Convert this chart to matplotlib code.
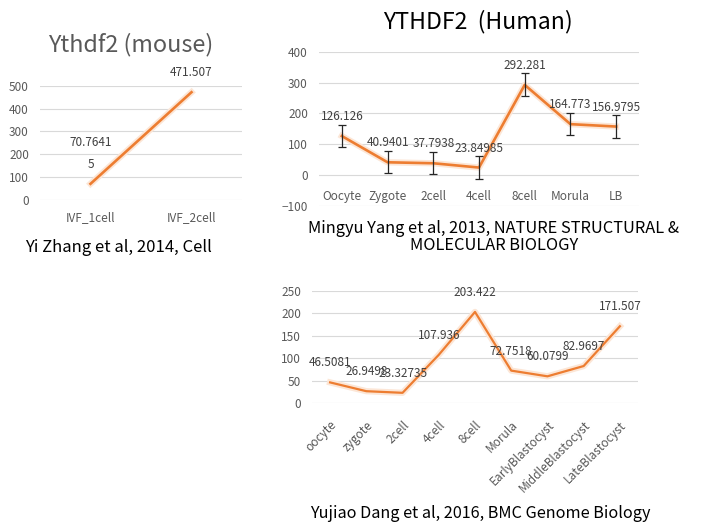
import matplotlib
matplotlib.use("Agg")
import matplotlib.pyplot as plt
import matplotlib.patheffects as pe

plt.rcParams['font.family'] = ['Noto Sans CJK KR', 'DejaVu Sans']

# --- data ---
mouse_cats = ["IVF_1cell", "IVF_2cell"]
mouse_vals = [70.76415, 471.507]
mouse_labels = ["70.7641\n5", "471.507"]

human_cats = ["Oocyte", "Zygote", "2cell", "4cell", "8cell", "Morula", "LB"]
human_vals = [126.126, 40.9401, 37.7938, 23.84985, 292.281, 164.773, 156.9795]
human_err = [36, 36, 36, 37, 37, 35, 37]
human_labels = ["126.126", "40.9401", "37.7938", "23.84985", "292.281", "164.773", "156.9795"]

dang_cats = ["oocyte", "zygote", "2cell", "4cell", "8cell", "Morula",
             "EarlyBlastocyst", "MiddleBlastocyst", "LateBlastocyst"]
dang_vals = [46.5081, 26.9498, 23.32735, 107.936, 203.422, 72.7518, 60.0799, 82.9697, 171.507]
dang_labels = ["46.5081", "26.9498", "23.32735", "107.936", "203.422", "72.7518",
               "60.0799", "82.9697", "171.507"]

W, H = 726, 532
ORANGE = '#ED7D31'
GRID = '#D9D9D9'
TXT = '#595959'

fig = plt.figure(figsize=(W / 100, H / 100), dpi=100)


def px_axes(x0, x1, y_top, y_bot):
    return fig.add_axes([x0 / W, 1 - y_bot / H, (x1 - x0) / W, (y_bot - y_top) / H])


def style(ax, ylim, yticks, ncat):
    ax.set_ylim(*ylim)
    ax.set_xlim(-0.5, ncat - 0.5)
    ax.set_yticks(yticks)
    ax.grid(axis='y', color=GRID, lw=0.8)
    ax.set_axisbelow(True)
    for s in ax.spines.values():
        s.set_visible(False)
    ax.tick_params(length=0, colors=TXT, labelsize=8.5)
    ax.tick_params(axis='y', pad=8)


glow = [pe.Stroke(linewidth=4.5, foreground='#FCE6D6'), pe.Normal()]

# panel 1 - mouse
ax1 = px_axes(40, 242, 85.7, 200)
style(ax1, (0, 500), range(0, 501, 100), 2)
x1 = range(len(mouse_cats))
ax1.plot(x1, mouse_vals, color=ORANGE, lw=1.9, path_effects=glow)
ax1.set_xticks(list(x1))
ax1.set_xticklabels(mouse_cats)
ax1.tick_params(axis='x', pad=8)
ax1.annotate("70.7641", (0, mouse_vals[0]), xytext=(0, 29.5), textcoords='offset points',
             ha='center', va='center', fontsize=8.5, color='#404040')
ax1.annotate("5", (0, mouse_vals[0]), xytext=(0, 13.7), textcoords='offset points',
             ha='center', va='center', fontsize=8.5, color='#404040')
ax1.annotate(mouse_labels[1], (1, mouse_vals[1]), xytext=(0, 14.4), textcoords='offset points',
             ha='center', va='center', fontsize=8.5, color='#404040')

# panel 2 - human
ax2 = px_axes(319, 639, 51.7, 205.7)
style(ax2, (-100, 400), range(-100, 401, 100), len(human_cats))
x2 = range(len(human_cats))
ax2.plot(x2, human_vals, color=ORANGE, lw=1.9, path_effects=glow, zorder=3)
ax2.errorbar(x2, human_vals, yerr=human_err, fmt='none', ecolor='#262626',
             elinewidth=0.9, capsize=2.9, capthick=0.9, zorder=4)
ax2.spines['bottom'].set_position(('data', 0))
ax2.set_xticks(list(x2))
ax2.set_xticklabels(human_cats)
ax2.tick_params(axis='x', pad=11)
for i, (v, t) in enumerate(zip(human_vals, human_labels)):
    ax2.annotate(t, (i, v), xytext=(0, 14), textcoords='offset points',
                 ha='center', va='center', fontsize=8.5, color='#404040', zorder=5)

# panel 3 - Dang
ax3 = px_axes(312, 638, 291, 403.3)
style(ax3, (0, 250), range(0, 251, 50), len(dang_cats))
x3 = range(len(dang_cats))
ax3.plot(x3, dang_vals, color=ORANGE, lw=1.6, path_effects=glow)
ax3.set_xticks(list(x3))
ax3.set_xticklabels(dang_cats, rotation=45, ha='right', va='top', rotation_mode='anchor')
ax3.tick_params(axis='x', pad=11)
for i, (v, t) in enumerate(zip(dang_vals, dang_labels)):
    ax3.annotate(t, (i, v), xytext=(0, 14), textcoords='offset points',
                 ha='center', va='center', fontsize=8.5, color='#404040')

# titles and captions
fig.text(131 / W, 1 - 45 / H, "Ythdf2 (mouse)", ha='center', va='center', fontsize=16.8, color=TXT)
fig.text(478 / W, 1 - 22 / H, "YTHDF2  (Human)", ha='center', va='center', fontsize=16.6, color='black')
fig.text(118 / W, 1 - 248 / H, "Yi Zhang et al, 2014, Cell", ha='center', va='center', fontsize=12)
fig.text(494 / W, 1 - 237 / H, "Mingyu Yang et al, 2013, NATURE STRUCTURAL &\nMOLECULAR BIOLOGY",
         ha='center', va='center', fontsize=11.8, linespacing=1.05)
fig.text(480 / W, 1 - 513 / H, "Yujiao Dang et al, 2016, BMC Genome Biology", ha='center', va='center', fontsize=11.7)

fig.savefig("out.png", dpi=100, facecolor='white')
